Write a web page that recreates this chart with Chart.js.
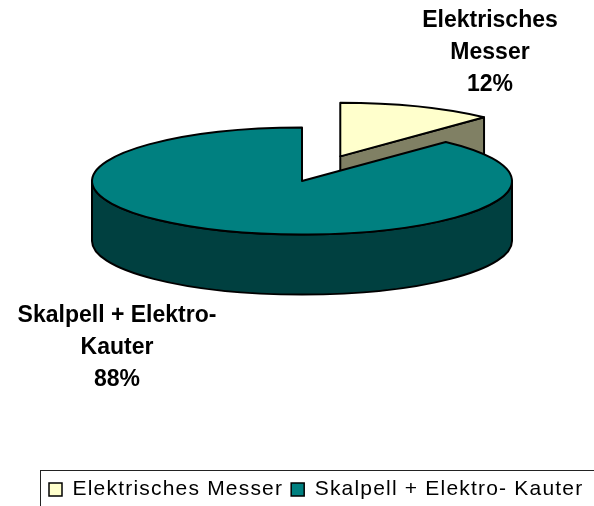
<!DOCTYPE html>
<html>
<head>
<meta charset="utf-8">
<script src="https://cdn.jsdelivr.net/npm/chart.js@4/dist/chart.umd.min.js"></script>
<style>
  html, body { margin: 0; padding: 0; background: #fff; }
  canvas { display: block; }
</style>
</head>
<body>
<canvas id="pieChart" width="594" height="506"></canvas>
<script>
// data
const categories = ["Elektrisches Messer", "Skalpell + Elektro- Kauter"];
const shares = [12, 88];
const sliceLabelLines = [["Elektrisches", "Messer"], ["Skalpell + Elektro-", "Kauter"]];

// look
const topColors = ["#FFFFCC", "#008080"];
const sideColors = ["#808064", "#004040"];
const explode = [104, 0];          // how far each slice is pulled out (unsquashed px)
const PIE = { x: 302, y: 181 };    // where the pie centre lands on the page
const TILT = 0.255;                // vertical squash of the pie disc
const DEPTH = 60;                  // thickness of the disc
const LABEL_AT = [{ x: 490, y: 27 }, { x: 117, y: 322 }];
const FONT = 'Arial, "Liberation Sans", sans-serif';
const TAU = Math.PI * 2;

const pie3d = {
  id: "pie3d",
  beforeLayout(chart) { chart.ctx.letterSpacing = "1.2px"; },
  beforeDraw(chart) { chart.ctx.letterSpacing = "1.2px"; },
  beforeDatasetsDraw(chart) {
    const ctx = chart.ctx;
    const arcs = chart.getDatasetMeta(0).data;
    arcs.forEach((arc, i) => {
      const { x, y, startAngle, endAngle, outerRadius } =
        arc.getProps(["x", "y", "startAngle", "endAngle", "outerRadius"]);
      const mid = (startAngle + endAngle) / 2;
      const cx = PIE.x + Math.cos(mid) * explode[i];
      const cy = PIE.y + Math.sin(mid) * explode[i] * TILT;
      const rx = outerRadius, ry = outerRadius * TILT;
      const pt = a => [cx + rx * Math.cos(a), cy + ry * Math.sin(a)];

      ctx.save();
      ctx.lineWidth = 2;
      ctx.strokeStyle = "#000";
      ctx.lineJoin = "round";
      ctx.fillStyle = sideColors[i];

      // curved outer wall, only the part facing us
      for (const shift of [-TAU, 0, TAU]) {
        const s = Math.max(startAngle + shift, 0);
        const e = Math.min(endAngle + shift, Math.PI);
        if (s < e) {
          const [ex, ey] = pt(e);
          ctx.beginPath();
          ctx.ellipse(cx, cy, rx, ry, 0, s, e);
          ctx.lineTo(ex, ey + DEPTH);
          ctx.ellipse(cx, cy + DEPTH, rx, ry, 0, e, s, true);
          ctx.closePath();
          ctx.fill();
          ctx.stroke();
        }
      }

      // flat cut faces
      [[startAngle, -Math.cos(startAngle)], [endAngle, Math.cos(endAngle)]].forEach(([a, facing]) => {
        if (facing > 0.01) {
          const [px, py] = pt(a);
          ctx.beginPath();
          ctx.moveTo(cx, cy);
          ctx.lineTo(px, py);
          ctx.lineTo(px, py + DEPTH);
          ctx.lineTo(cx, cy + DEPTH);
          ctx.closePath();
          ctx.fill();
          ctx.stroke();
        }
      });

      // top face: the arc element itself, squashed
      ctx.save();
      ctx.translate(cx, cy);
      ctx.scale(1, TILT);
      ctx.translate(-x, -y);
      arc.draw(ctx);
      ctx.restore();

      const [sx, sy] = pt(startAngle);
      ctx.beginPath();
      ctx.moveTo(cx, cy);
      ctx.lineTo(sx, sy);
      ctx.ellipse(cx, cy, rx, ry, 0, startAngle, endAngle);
      ctx.closePath();
      ctx.stroke();
      ctx.restore();
    });
    return false;
  },
  afterDraw(chart) {
    const ctx = chart.ctx;
    ctx.save();
    ctx.letterSpacing = "0px";
    ctx.fillStyle = "#000";
    ctx.textAlign = "center";
    ctx.textBaseline = "alphabetic";
    ctx.font = "bold 23px " + FONT;
    shares.forEach((v, i) => {
      const lines = [...sliceLabelLines[i], v + "%"];
      lines.forEach((t, j) => ctx.fillText(t, LABEL_AT[i].x, LABEL_AT[i].y + j * 32));
    });
    // legend frame
    const lg = chart.legend;
    ctx.strokeStyle = "#222";
    ctx.lineWidth = 1;
    ctx.strokeRect(lg.left - 0.5, lg.top - 0.5, 700, 100);
    ctx.restore();
  }
};

new Chart(document.getElementById("pieChart"), {
  type: "pie",
  data: {
    labels: categories,
    datasets: [{
      data: shares,
      backgroundColor: topColors,
      borderWidth: 0
    }]
  },
  options: {
    responsive: false,
    devicePixelRatio: 1,
    animation: false,
    events: [],
    radius: 210,
    layout: { padding: { left: 41, right: 0, top: 0, bottom: 0 } },
    plugins: {
      tooltip: { enabled: false },
      legend: {
        position: "bottom",
        align: "start",
        maxHeight: 35,
        labels: {
          boxWidth: 13,
          boxHeight: 13,
          padding: 8,
          color: "#000",
          font: { family: FONT, size: 21 },
          generateLabels(chart) {
            const items = Chart.overrides.doughnut.plugins.legend.labels.generateLabels(chart);
            items.forEach(it => { it.strokeStyle = "#000"; it.lineWidth = 1.5; });
            return items;
          }
        }
      }
    }
  },
  plugins: [pie3d]
});
</script>
</body>
</html>
